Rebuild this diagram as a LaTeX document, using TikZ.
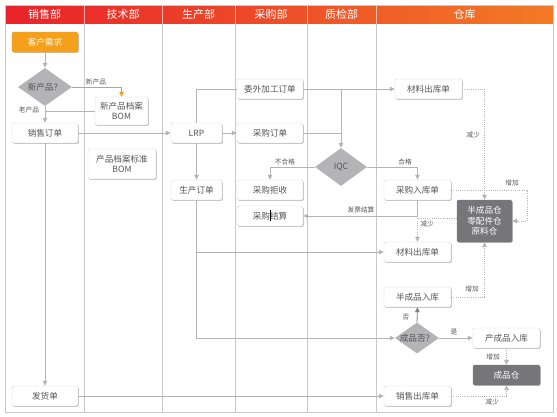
\documentclass[tikz,border=0pt]{standalone}
\usepackage{fontspec}
\setmainfont{Noto Sans CJK SC}
\usetikzlibrary{arrows.meta,shapes.geometric,shadows}
\definecolor{lnc}{HTML}{B4B4B4}
\definecolor{txt}{HTML}{555555}
\definecolor{bdr}{HTML}{D6D6D6}
\definecolor{org}{HTML}{F5A01A}
\definecolor{orgl}{HTML}{F39C12}
\definecolor{dark}{HTML}{76767A}
\definecolor{dia}{HTML}{B4B4B7}
\definecolor{hl}{HTML}{E8222A}
\definecolor{hr}{HTML}{F37A26}
\definecolor{col}{HTML}{C9C9C9}
\begin{document}
\begin{tikzpicture}[x=1pt,y=-1pt,
  box/.style={draw=bdr, fill=white, rounded corners=1.5pt, minimum width=66pt, minimum height=20pt,
    inner sep=1pt, font=\fontsize{8.6}{10.5}\selectfont, text=txt, align=center,
    drop shadow={shadow xshift=0.8pt, shadow yshift=-0.8pt, opacity=0.25, fill=black}},
  dbox/.style={box, fill=dark, draw=dark, text=white},
  dm/.style={diamond, fill=dia, inner sep=0pt},
  dmt/.style={font=\fontsize{8.6}{10}\selectfont, text=txt, inner sep=0pt},
  hd/.style={font=\fontsize{11}{12}\selectfont, text=white, inner sep=0pt},
  lb/.style={font=\fontsize{6.7}{7.5}\selectfont, text=txt, inner sep=0pt},
  tip/.style={-{Triangle[length=5pt,width=4.5pt]}},
  lnn/.style={draw=lnc, line width=0.8pt},
  ar/.style={lnn, tip},
  arO/.style={draw=orgl, line width=0.8pt, tip},
  arD/.style={draw=gray, line width=0.8pt, tip},
  dt/.style={draw=lnc, line width=0.7pt, dash pattern=on 1pt off 1.2pt, tip}
]
\useasboundingbox (0,0) rectangle (557,416);
% frame and header
\shade[left color=hl, right color=hr] (5,5) rectangle (553,23);
\foreach \xx in {84,162,235,307,376} {
  \draw[col, line width=0.8pt] (\xx,23) -- (\xx,412);
  \draw[white, opacity=0.6, line width=0.8pt] (\xx,5) -- (\xx,23);
}
\draw[col, line width=0.8pt] (5,5) rectangle (553,412);
\node[hd] (h1) at (44.5,14) {销售部};
\node[hd] (h2) at (123,14) {技术部};
\node[hd] (h3) at (198.5,14) {生产部};
\node[hd] (h4) at (271,14) {采购部};
\node[hd] (h5) at (341.5,14) {质检部};
\node[hd] (h6) at (464.5,14) {仓库};

% nodes
\node[box, fill=org, draw=org, text=white] (kh) at (45,42) {客户需求};
\node[dm, minimum width=54pt, minimum height=38pt, label={[dmt]center:新产品？}] (xcp) at (45,87) {};
\node[box, minimum width=53pt, minimum height=28pt] (bom) at (121.5,111) {新产品档案\\BOM};
\node[box] (xsdd) at (45,133) {销售订单};
\node[box, minimum width=68pt, minimum height=30pt] (bzbom) at (122,164) {产品档案标准\\BOM};
\node[box, minimum width=51pt] (lrp) at (196.5,133) {LRP};
\node[box, minimum width=51pt] (scdd) at (196.5,190) {生产订单};
\node[box] (wjg) at (270,89) {委外加工订单};
\node[box] (cgdd) at (270,133) {采购订单};
\node[box] (cgjsh) at (270,190) {采购拒收};
\node[box] (cgjs) at (270,216) {采购结算};
\node[dm, minimum width=52pt, minimum height=38pt, label={[dmt]center:IQC}] (iqc) at (341,167) {};
\node[box, minimum width=67pt] (cl1) at (428.5,89) {材料出库单};
\node[box, minimum width=67pt] (cgrk) at (417.5,190) {采购入库单};
\node[box, minimum width=67pt] (cl2) at (417.5,252) {材料出库单};
\node[box, minimum width=67pt] (bcrk) at (417.5,297) {半成品入库};
\node[dm, minimum width=44pt, minimum height=31pt, label={[dmt]center:成品否？}] (cpf) at (417,338) {};
\node[box, minimum width=67pt] (xsck) at (417.5,396) {销售出库单};
\node[box] (fhd) at (45,396) {发货单};
\node[dbox, minimum width=55pt, minimum height=42pt, font=\fontsize{8.6}{10.5}\selectfont] (cang) at (484.5,221) {半成品仓\\零配件仓\\原料仓};
\node[box, minimum width=67pt] (ccrk) at (506.5,338) {产成品入库};
\node[dbox, minimum width=67pt] (cpc) at (506.5,375) {成品仓};

% cursor mark
\draw[black, line width=0.6pt] (270,210) -- (270,221);

% connectors
\draw[ar] (kh) -- (xcp);
\draw[arO] (xcp.east) -| (bom.north);
\draw[lnn] (bom.west) -- (bom.west -| xcp.south);
\draw[ar] (xcp.south) -- (xsdd.north);
\draw[ar] (xsdd) -- (lrp);
\draw[ar] (lrp) -- (cgdd);
\draw[lnn] (lrp.north) |- (wjg.west);
\draw[ar] (wjg) -- (cl1);
\coordinate (j1) at (wjg.east -| iqc.north);
\draw[ar] (j1) -- (iqc.north);
\draw[lnn] (cgdd.east) -- (cgdd.east -| iqc.north);
\draw[ar] (lrp) -- (scdd);
\draw[ar] (iqc.west) -| (cgjsh.north);
\draw[ar] (iqc.east) -| (cgrk.north);
\draw[ar] (cgrk.south) |- (cgjs.east);
\coordinate (j2) at (scdd.south |- cl2.west);
\draw[ar] (scdd.south) |- (cpf.west);
\draw[ar] (j2) -- (cl2.west);
\draw[ar] (xsdd) -- (fhd);
\draw[ar] (fhd) -- (xsck);
\draw[dt] (cl1.east) -| (cang.north);
\coordinate (c1) at (527,190);
\draw[dt] (cgrk.east) -- (c1) |- (cang.east);
\draw[dt] ([yshift=3pt]cang.west) -| (cl2.north);
\draw[dt] (bcrk.east) -| (cang.south);
\draw[arD] (cpf.north) -- (bcrk.south);
\draw[ar] (cpf.east) -- (ccrk.west);
\draw[dt] (ccrk.south) -- (cpc.north);
\draw[dt] (xsck.east) -| (cpc.south);

% labels
\node[lb] (l1) at (96,82) {新产品};
\node[lb] (l2) at (29,110) {老产品};
\node[lb] (l3) at (285,162) {不合格};
\node[lb] (l4) at (405,162) {合格};
\node[lb] (l5) at (361,210) {发票结算};
\node[lb] (l6) at (473,135) {减少};
\node[lb] (l7) at (512,183) {增加};
\node[lb] (l8) at (427,224) {减少};
\node[lb] (l9) at (472,289) {增加};
\node[lb] (l10) at (406,317) {否};
\node[lb] (l11) at (454,332) {是};
\node[lb] (l12) at (493,357) {增加};
\node[lb] (l13) at (492,402) {减少};
\end{tikzpicture}
\end{document}
